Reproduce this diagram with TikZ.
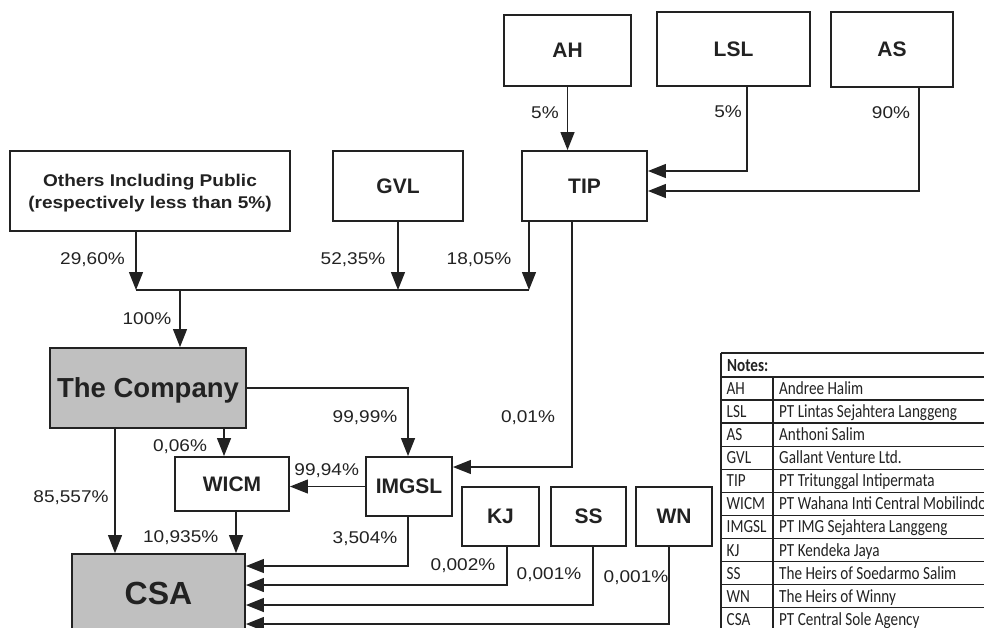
\documentclass[tikz,border=0pt]{standalone}
\usepackage{fontspec}
\setmainfont{Liberation Sans}
\newfontfamily\labfont{Liberation Sans}[FakeStretch=1.12]
\newfontfamily\tabfont{Carlito}[FakeStretch=0.82]
\usetikzlibrary{arrows.meta,calc}
\definecolor{ink}{HTML}{222222}
\definecolor{boxgray}{HTML}{C0C0C0}
\tikzset{
  box/.style={draw=ink, line width=1.9pt, fill=white, inner sep=0pt, text depth=0pt,
    font=\fontsize{21}{24}\selectfont\bfseries, text=ink},
  graybox/.style={box, fill=boxgray},
  arr/.style={draw=ink, line width=1.3pt, -{Triangle[length=18pt,width=14pt]}},
  conn/.style={draw=ink, line width=1.3pt},
  lab/.style={font=\labfont\fontsize{17}{20}\selectfont, text=ink, inner sep=0pt, text height=12pt, text depth=0pt},
  tabtxt/.style={font=\tabfont\fontsize{18.5}{20}\selectfont, text=ink, inner sep=0pt},
  tabline/.style={draw=ink, line width=1.4pt},
  tabthick/.style={draw=ink, line width=2pt}
}
\begin{document}
\begin{tikzpicture}[x=1pt,y=-1pt]
\useasboundingbox (0,0) rectangle (984,628);
\fill[white] (0,0) rectangle (984,628);
\clip (0,0) rectangle (984,628);

% boxes
\node[box, minimum width=127pt, minimum height=71pt] (AH) at (567.5,50.5) {AH};
\node[box, minimum width=153pt, minimum height=74pt] (LSL) at (733.5,49) {LSL};
\node[box, minimum width=122pt, minimum height=75pt] (AS) at (892,49.5) {AS};
\node[box, minimum width=125pt, minimum height=70pt] (TIP) at (584.5,186) {TIP};
\node[box, minimum width=280pt, minimum height=80pt, align=center,
  font=\labfont\fontsize{17}{22}\selectfont\bfseries] (OTH) at (150,191)
  {Others Including Public\\(respectively less than 5\%)};
\node[box, minimum width=130pt, minimum height=70pt] (GVL) at (398,186) {GVL};
\node[graybox, minimum width=196pt, minimum height=80pt, font=\fontsize{27.5}{30}\selectfont\bfseries] (COMP) at (148,388) {The Company};
\node[box, minimum width=114pt, minimum height=54pt] (WICM) at (232,484) {WICM};
\node[box, minimum width=86pt, minimum height=59pt] (IMGSL) at (409,486.5) {IMGSL};
\node[box, minimum width=77pt, minimum height=59pt] (KJ) at (500.5,516.5) {KJ};
\node[box, minimum width=75pt, minimum height=59pt] (SS) at (588.5,516.5) {SS};
\node[box, minimum width=76pt, minimum height=59pt] (WN) at (674,516.5) {WN};
\node[graybox, minimum width=173pt, minimum height=78pt, font=\fontsize{32}{34}\selectfont\bfseries] (CSA) at (158.5,593) {CSA};

% top part
\draw[arr] (AH.south) -- (AH.south |- TIP.north);
\draw[arr] ([xshift=13.5pt]LSL.south) |- ([yshift=15pt]TIP.east);
\draw[arr] ([xshift=27pt]AS.south) |- ([yshift=-5pt]TIP.east);

\coordinate (busL) at (136,290);
\coordinate (busR) at (529,290);
\coordinate (busC) at (180,290);
\draw[arr] (busL |- OTH.south) -- (busL);
\draw[arr] (GVL.south) -- (GVL.south |- busL);
\draw[arr] (busR |- TIP.south) -- (busR);
\draw[conn] (busL) -- (busR);
\draw[arr] (busC) -- (busC |- COMP.north);

% company
\draw[arr] (COMP.east) -| ([xshift=-1pt]IMGSL.north);
\draw[arr] ([xshift=76pt]COMP.south) -- ([xshift=-8pt]WICM.north);
\draw[arr] ([xshift=-33pt]COMP.south) -- ([xshift=-33pt]COMP.south |- CSA.north);
\draw[arr] (IMGSL.west) -- (IMGSL.west -| WICM.east);
\draw[arr] ([xshift=4pt]WICM.south) -- ([xshift=4pt]WICM.south |- CSA.north);
\draw[arr] ([xshift=-12.5pt]TIP.south) |- ([yshift=19.5pt]IMGSL.east);

% to CSA
\draw[arr] ([xshift=-1pt]IMGSL.south) |- ([yshift=27pt]CSA.east);
\draw[arr] ([xshift=6.5pt]KJ.south) |- ([yshift=8pt]CSA.east);
\draw[arr] ([xshift=4.5pt]SS.south) |- ([yshift=-12pt]CSA.east);
\draw[arr] ([xshift=-5pt]WN.south) |- ([yshift=-31pt]CSA.east);

% labels
\node[lab] (l1) at (545,113) {5\%};
\node[lab] (l2) at (728,112) {5\%};
\node[lab] (l3) at (891,113) {90\%};
\node[lab] (l4) at (92.5,258) {29,60\%};
\node[lab] (l5) at (353,258) {52,35\%};
\node[lab] (l6) at (479,258) {18,05\%};
\node[lab] (l7) at (147,318) {100\%};
\node[lab] (l8) at (365,416.7) {99,99\%};
\node[lab] (l9) at (180,445.7) {0,06\%};
\node[lab] (l10) at (71,496) {85,557\%};
\node[lab] (l11) at (326.7,469) {99,94\%};
\node[lab] (l12) at (180.7,536) {10,935\%};
\node[lab] (l13) at (365,537) {3,504\%};
\node[lab] (l14) at (528,416) {0,01\%};
\node[lab] (l15) at (463,564) {0,002\%};
\node[lab] (l16) at (549,573) {0,001\%};
\node[lab] (l17) at (636,576.7) {0,001\%};

% notes table
\draw[tabthick] (721,353) -- (990,353);
\draw[tabthick] (721,353) -- (721,640);
\draw[tabthick] (721,377) -- (990,377);
\foreach \k in {1,...,11} {
  \draw[tabline] (721,{377+23.07*\k}) -- (990,{377+23.07*\k});
}
\draw[tabline] (773,377) -- (773,640);
\node[tabtxt, anchor=base west, font=\tabfont\fontsize{18.5}{20}\selectfont\bfseries] (tnotes) at (727,371.5) {Notes:};
\foreach [count=\i] \a/\b in {AH/Andree Halim, LSL/PT Lintas Sejahtera Langgeng, AS/Anthoni Salim,
  GVL/Gallant Venture Ltd., TIP/PT Tritunggal Intipermata, WICM/PT Wahana Inti Central Mobilindo,
  IMGSL/PT IMG Sejahtera Langgeng, KJ/PT Kendeka Jaya, SS/The Heirs of Soedarmo Salim,
  WN/The Heirs of Winny, CSA/PT Central Sole Agency} {
  \node[tabtxt, anchor=base west] (ta\i) at (726.5,{377+23.07*(\i-0.5)+6}) {\a};
  \node[tabtxt, anchor=base west] (tb\i) at (779,{377+23.07*(\i-0.5)+6}) {\b};
}
\end{tikzpicture}
\end{document}
